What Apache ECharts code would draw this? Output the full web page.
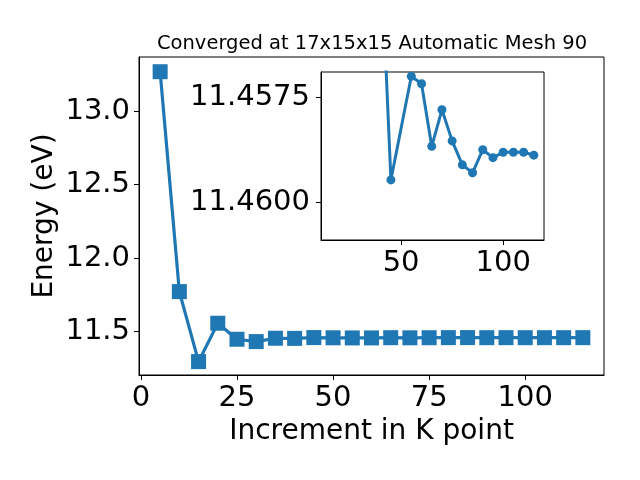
<!DOCTYPE html>
<html><head><meta charset="utf-8">
<script src="https://cdn.jsdelivr.net/npm/echarts@6/dist/echarts.min.js"></script>
<style>html,body{margin:0;padding:0;background:#fff}#c{width:640px;height:480px}</style>
</head><body><div id="c"></div>
<script>
const titleText = "Converged at 17x15x15 Automatic Mesh 90";
const xName = "Increment in K point";
const yName = "Energy (eV)";
const kPoints = [5,10,15,20,25,30,35,40,45,50,55,60,65,70,75,80,85,90,95,100,105,110,115];
const energies = [13.267,11.772,11.296,11.557,11.448,11.432,11.455,11.454,11.4595,11.458,11.4570,11.4572,11.4587,11.4578,11.4585,11.4591,11.4593,11.4588,11.4589,11.4588,11.4588,11.4588,11.4589];
const insetK = [40,45,55,60,65,70,75,80,85,90,95,100,105,110,115];
const insetE = [11.4539,11.45947,11.4570,11.45718,11.45867,11.45780,11.45854,11.45911,11.4593,11.45875,11.45894,11.45881,11.45881,11.45881,11.45888];
const mainXTicks = [0,25,50,75,100];
const mainYTicks = [11.5,12.0,12.5,13.0];
const insetXTicks = [50,100];
const insetYTicks = [11.4575,11.4600];

const FONT = 'DejaVu Sans';
const FS = 29;
const C = '#1f77b4';
const chart = echarts.init(document.getElementById('c'), null, {renderer:'canvas'});
const axisCommon = {
  axisLine:{show:true,onZero:false,lineStyle:{color:'#000',width:1}},
  splitLine:{show:false},
  axisTick:{show:true,inside:false,length:5,lineStyle:{color:'#000',width:1}},
};
chart.setOption({
  animation:false,
  backgroundColor:'#fff',
  title:{text:titleText,left:367,top:29,textAlign:'center',
    textStyle:{fontFamily:FONT,fontSize:19.5,fontWeight:'normal',color:'#000'}},
  grid:[
    {left:139,right:36,top:57,bottom:105,show:true,borderColor:'#000',borderWidth:1,backgroundColor:'#fff'},
    {left:321,top:72,width:223,height:168,show:true,borderColor:'#000',borderWidth:1,backgroundColor:'#fff',z:5}
  ],
  xAxis:[
    Object.assign({},axisCommon,{type:'value',gridIndex:0,min:-0.5,max:120.5,
      axisTick:Object.assign({},axisCommon.axisTick,{customValues:mainXTicks}),
      axisLabel:{customValues:mainXTicks,fontFamily:FONT,fontSize:FS,color:'#000',margin:9},
      name:xName,nameLocation:'middle',nameGap:43,
      nameTextStyle:{fontFamily:FONT,fontSize:28,color:'#000'}}),
    Object.assign({},axisCommon,{type:'value',gridIndex:1,min:10.75,max:120,z:6,
      axisTick:Object.assign({},axisCommon.axisTick,{customValues:insetXTicks}),
      axisLabel:{customValues:insetXTicks,fontFamily:FONT,fontSize:FS,color:'#000',margin:9}})
  ],
  yAxis:[
    Object.assign({},axisCommon,{type:'value',gridIndex:0,min:11.205,max:13.367,
      axisTick:Object.assign({},axisCommon.axisTick,{customValues:mainYTicks}),
      axisLabel:{customValues:mainYTicks,fontFamily:FONT,fontSize:FS,color:'#000',margin:9,
        formatter:v=>v.toFixed(1)},
      name:yName,nameLocation:'middle',nameGap:80,nameMoveOverlap:false,
      nameTextStyle:{fontFamily:FONT,fontSize:28,color:'#000'}}),
    Object.assign({},axisCommon,{type:'value',gridIndex:1,min:11.4569,max:11.4609,inverse:true,z:6,
      axisTick:Object.assign({},axisCommon.axisTick,{customValues:insetYTicks}),
      axisLabel:{customValues:insetYTicks,fontFamily:FONT,fontSize:FS,color:'#000',margin:11,
        formatter:v=>v.toFixed(4)}})
  ],
  series:[
    {type:'line',xAxisIndex:0,yAxisIndex:0,data:kPoints.map((k,i)=>[k,energies[i]]),
      symbol:'rect',symbolSize:15,showAllSymbol:true,
      lineStyle:{color:C,width:3.2},itemStyle:{color:C},z:2},
    {type:'line',xAxisIndex:1,yAxisIndex:1,data:insetK.map((k,i)=>[k,insetE[i]]),
      symbol:'circle',symbolSize:9,showAllSymbol:true,clip:true,
      lineStyle:{color:C,width:3},itemStyle:{color:C},z:7}
  ]
});
</script></body></html>
